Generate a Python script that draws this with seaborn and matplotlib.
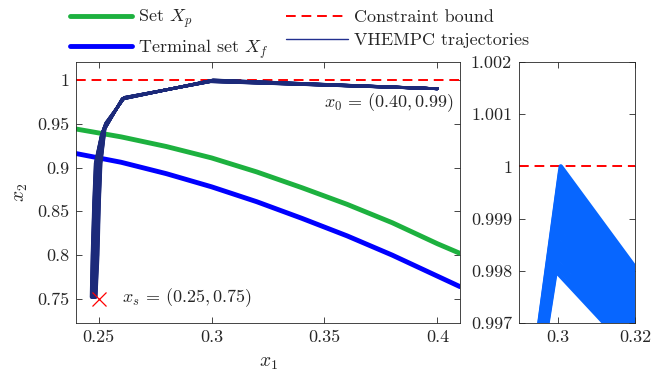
import numpy as np
import pandas as pd
import matplotlib
matplotlib.use("Agg")
import matplotlib.pyplot as plt
from matplotlib.lines import Line2D
import seaborn as sns

# boundary curves of the sets X_p and X_f
curve_x1 = [0.24, 0.26, 0.28, 0.30, 0.32, 0.34, 0.36, 0.38, 0.40, 0.41]
set_xp_x2 = [0.944, 0.935, 0.924, 0.911, 0.895, 0.877, 0.858, 0.837, 0.813, 0.802]
set_xf_x2 = [0.916, 0.906, 0.893, 0.878, 0.861, 0.842, 0.822, 0.800, 0.776, 0.764]

constraint_bound = 1.0
x0 = (0.40, 0.99)
xs = (0.25, 0.75)

# closed-loop trajectories, one value per run at each time step
step1_x1 = [0.3008, 0.3007, 0.3007, 0.3006, 0.3006, 0.3005, 0.3005, 0.3004,
            0.3004, 0.3003, 0.3003, 0.3002, 0.3001, 0.3001, 0.3000, 0.3000,
            0.2999, 0.2999, 0.2998, 0.2998, 0.2997, 0.2996, 0.2996, 0.2995]
step1_x2 = [1.0000, 0.9999, 0.9998, 0.9997, 0.9996, 0.9996, 0.9995, 0.9994,
            0.9993, 0.9992, 0.9991, 0.9990, 0.9990, 0.9989, 0.9988, 0.9987,
            0.9986, 0.9985, 0.9984, 0.9984, 0.9983, 0.9982, 0.9981, 0.9980]
step2_x1 = [0.2603, 0.2604, 0.2604, 0.2605, 0.2605, 0.2606, 0.2606, 0.2607,
            0.2607, 0.2608, 0.2608, 0.2609, 0.2610, 0.2610, 0.2611, 0.2611,
            0.2612, 0.2612, 0.2613, 0.2613, 0.2614, 0.2615, 0.2615, 0.2616]
step2_x2 = [0.9780, 0.9781, 0.9782, 0.9783, 0.9784, 0.9785, 0.9786, 0.9787,
            0.9788, 0.9789, 0.9790, 0.9791, 0.9791, 0.9792, 0.9793, 0.9794,
            0.9795, 0.9796, 0.9797, 0.9798, 0.9799, 0.9800, 0.9801, 0.9802]
step3_x1 = [0.2512, 0.2513, 0.2514, 0.2515, 0.2515, 0.2516, 0.2517, 0.2518,
            0.2519, 0.2520, 0.2521, 0.2522, 0.2522, 0.2523, 0.2524, 0.2525,
            0.2526, 0.2527, 0.2528, 0.2529, 0.2529, 0.2530, 0.2531, 0.2532]
step3_x2 = [0.9370, 0.9376, 0.9382, 0.9388, 0.9394, 0.9400, 0.9407, 0.9413,
            0.9419, 0.9425, 0.9431, 0.9437, 0.9443, 0.9449, 0.9455, 0.9461,
            0.9467, 0.9473, 0.9479, 0.9486, 0.9492, 0.9498, 0.9504, 0.9510]
step4_x1 = [0.2485, 0.2486, 0.2487, 0.2488, 0.2490, 0.2491, 0.2492, 0.2493,
            0.2494, 0.2495, 0.2496, 0.2497, 0.2499, 0.2500, 0.2501, 0.2502,
            0.2503, 0.2504, 0.2505, 0.2506, 0.2508, 0.2509, 0.2510, 0.2511]
step5_x1 = [0.2478, 0.2479, 0.2480, 0.2481, 0.2483, 0.2484, 0.2485, 0.2486,
            0.2487, 0.2488, 0.2489, 0.2490, 0.2492, 0.2493, 0.2494, 0.2495,
            0.2496, 0.2497, 0.2498, 0.2499, 0.2501, 0.2502, 0.2503, 0.2504]
step6_x1 = [0.2471, 0.2472, 0.2473, 0.2474, 0.2476, 0.2477, 0.2478, 0.2479,
            0.2480, 0.2481, 0.2482, 0.2484, 0.2485, 0.2486, 0.2487, 0.2488,
            0.2489, 0.2490, 0.2491, 0.2493, 0.2494, 0.2495, 0.2496, 0.2498]
step7_x1 = [0.2467, 0.2468, 0.2469, 0.2470, 0.2471, 0.2472, 0.2473, 0.2474,
            0.2475, 0.2476, 0.2477, 0.2478, 0.2478, 0.2479, 0.2480, 0.2481,
            0.2482, 0.2483, 0.2484, 0.2485, 0.2486, 0.2487, 0.2488, 0.2489]
late_x2 = [0.905, 0.86, 0.80, 0.752]   # x2 at steps 4..7

main_xticks = [0.25, 0.3, 0.35, 0.4]
main_xlabels = ["0.25", "0.3", "0.35", "0.4"]
main_yticks = [0.75, 0.8, 0.85, 0.9, 0.95, 1.0]
main_ylabels = ["0.75", "0.8", "0.85", "0.9", "0.95", "1"]
zoom_xticks = [0.3, 0.32]
zoom_xlabels = ["0.3", "0.32"]
zoom_yticks = [0.997, 0.998, 0.999, 1.0, 1.001, 1.002]
zoom_ylabels = ["0.997", "0.998", "0.999", "1", "1.001", "1.002"]

# build long table of the runs
rows = []
for i in range(len(step1_x1)):
    px = [x0[0], step1_x1[i], step2_x1[i], step3_x1[i],
          step4_x1[i], step5_x1[i], step6_x1[i], step7_x1[i]]
    py = [x0[1], step1_x2[i], step2_x2[i], step3_x2[i]] + late_x2
    for k in range(len(px)):
        rows.append({"run": i, "k": k, "x1": px[k], "x2": py[k]})
traj = pd.DataFrame(rows)

sns.set_style("ticks")
plt.rcParams["font.family"] = ["cmr10", "DejaVu Serif"]
plt.rcParams["mathtext.fontset"] = "cm"
plt.rcParams["axes.formatter.use_mathtext"] = True
plt.rcParams["xtick.direction"] = "in"
plt.rcParams["ytick.direction"] = "in"

green = "#1db13f"
blue = "#0000ff"
navy = "#1c2a7a"
light_blue = "#0766ff"
grey = "#262626"

fig = plt.figure(figsize=(6.63, 3.70), dpi=100)
ax = fig.add_axes([76 / 663, 47 / 370, 384 / 663, 261 / 370])
ax2 = fig.add_axes([519 / 663, 47 / 370, 116 / 663, 261 / 370])

# main panel
sns.lineplot(x=curve_x1, y=set_xp_x2, color=green, lw=3.5, ax=ax)
sns.lineplot(x=curve_x1, y=set_xf_x2, color=blue, lw=3.5, ax=ax)
ax.axhline(constraint_bound, color="red", lw=1.4, ls=(0, (5, 3)))
sns.lineplot(data=traj, x="x1", y="x2", units="run", estimator=None, sort=False,
             color=navy, lw=2.0, ax=ax, legend=False)
ax.plot([xs[0]], [xs[1]], marker="x", color="red", ms=10, mew=0.9, ls="none")
ax.text(0.4075, 0.974, r"$x_0\,=\,(0.40, 0.99)$", ha="right", va="center",
        fontsize=13, color=grey)
ax.text(0.2603, 0.751, r"$x_s\,=\,(0.25, 0.75)$", ha="left", va="center",
        fontsize=13, color=grey)

ax.set_xlim(0.24, 0.41)
ax.set_ylim(0.7225, 1.0205)
ax.set_xticks(main_xticks, main_xlabels)
ax.set_yticks(main_yticks, main_ylabels)
ax.set_xlabel(r"$x_1$", fontsize=14, color=grey, labelpad=6)
ax.set_ylabel(r"$x_2$", fontsize=14, color=grey, labelpad=5)

# zoomed panel
ax2.axhline(constraint_bound, color="red", lw=1.4, ls=(0, (5, 3)))
sns.lineplot(data=traj, x="x1", y="x2", units="run", estimator=None, sort=False,
             color=light_blue, lw=3.2, ax=ax2, legend=False)
ax2.set_xlim(0.29, 0.32)
ax2.set_ylim(0.997, 1.002)
ax2.set_xticks(zoom_xticks, zoom_xlabels)
ax2.set_yticks(zoom_yticks, zoom_ylabels)
ax2.set_xlabel("")
ax2.set_ylabel("")

for a in (ax, ax2):
    a.tick_params(which="both", top=True, right=True, length=4, width=0.6,
                  labelsize=13, colors=grey, pad=5)
    for s in a.spines.values():
        s.set_visible(True)
        s.set_color(grey)
        s.set_linewidth(0.6)

handles = [
    Line2D([], [], color=green, lw=3.5),
    Line2D([], [], color=blue, lw=3.5),
    Line2D([], [], color="red", lw=1.4, ls=(0, (5, 3))),
    Line2D([], [], color="#22308f", lw=1.0),
]
labels = [r"Set $X_p$", r"Terminal set $X_f$", "Constraint bound",
          "VHEMPC trajectories"]
fig.legend(handles, labels, ncol=2, loc="upper left",
           bbox_to_anchor=(62 / 663, 1.0), frameon=False, fontsize=13,
           handlelength=3.4, handletextpad=0.35, columnspacing=1.0,
           labelspacing=0.4, borderaxespad=0.05)

fig.savefig("out.png", dpi=100)
